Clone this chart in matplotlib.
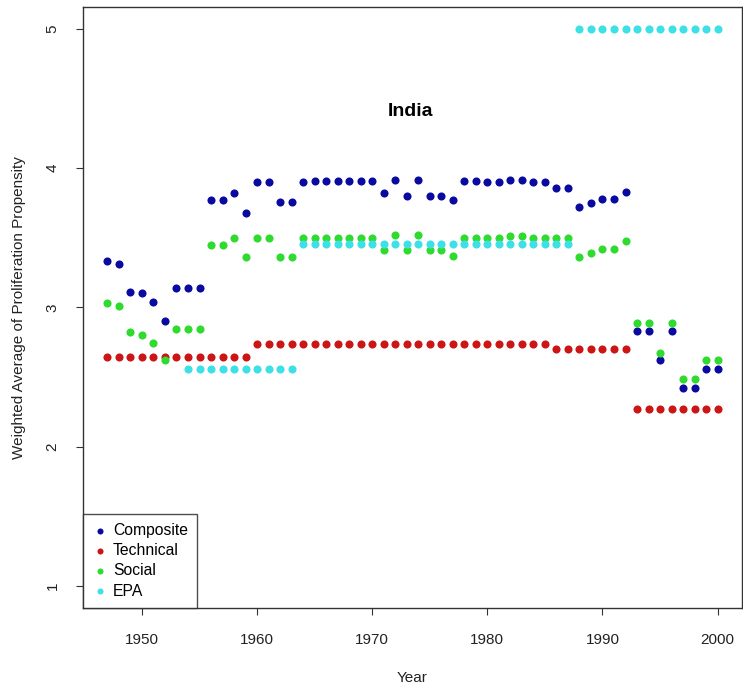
import numpy as np
import matplotlib
matplotlib.use("Agg")
import matplotlib.pyplot as plt

years = list(range(1947, 2001))

composite = [3.33, 3.31, 3.11, 3.10, 3.04, 2.90, 3.14, 3.14, 3.14, 3.77,
             3.77, 3.82, 3.68, 3.90, 3.90, 3.76, 3.76, 3.90, 3.905, 3.905,
             3.905, 3.905, 3.905, 3.905, 3.82, 3.915, 3.80, 3.915, 3.80, 3.80,
             3.77, 3.905, 3.905, 3.90, 3.90, 3.915, 3.915, 3.90, 3.90, 3.86,
             3.86, 3.72, 3.75, 3.78, 3.78, 3.83, 2.83, 2.83, 2.62, 2.83,
             2.42, 2.42, 2.56, 2.56]

technical = [2.64]*13 + [2.74]*26 + [2.70]*7 + [2.27]*8

social = [3.03, 3.01, 2.82, 2.80, 2.745, 2.62, 2.845, 2.845, 2.845, 3.445,
          3.445, 3.50, 3.36, 3.50, 3.50, 3.36, 3.36, 3.50, 3.50, 3.50,
          3.50, 3.50, 3.50, 3.50, 3.415, 3.52, 3.41, 3.52, 3.41, 3.41,
          3.37, 3.50, 3.50, 3.495, 3.495, 3.51, 3.51, 3.50, 3.50, 3.50,
          3.50, 3.36, 3.39, 3.42, 3.42, 3.475, 2.885, 2.885, 2.675, 2.885,
          2.485, 2.485, 2.62, 2.62]

epa = [np.nan]*7 + [2.555]*10 + [3.454]*24 + [5.0]*13

series_names = ["Composite", "Technical", "Social", "EPA"]
series_colors = ["#0A0AA0", "#CC1616", "#2EDB2E", "#3EE0E8"]

plt.rcParams['font.family'] = ['Liberation Sans', 'DejaVu Sans']

fig = plt.figure(figsize=(7.43, 6.9), dpi=100)
ax = fig.add_axes([0.1117, 0.1188, 0.887, 0.8716])

for vals, name, col in zip([composite, technical, social, epa], series_names, series_colors):
    ax.scatter(years, vals, s=34, color=col, label=name, linewidths=0, zorder=3)

ax.set_xlim(1944.88, 2002.12)
ax.set_ylim(0.84, 5.16)
ax.set_xticks([1950, 1960, 1970, 1980, 1990, 2000])
ax.set_yticks([1, 2, 3, 4, 5])
ax.tick_params(axis='both', direction='out', length=5, width=0.8, labelsize=11,
               color='#333333', labelcolor='#222222')
ax.tick_params(axis='x', pad=13)
ax.tick_params(axis='y', pad=12)
for lab in ax.get_yticklabels():
    lab.set_rotation(90)
    lab.set_va('center')

for sp in ax.spines.values():
    sp.set_linewidth(1.0)
    sp.set_color('#333333')

ax.set_xlabel("Year", fontsize=11, labelpad=17, color='#222222')
ax.set_ylabel("Weighted Average of Proliferation Propensity", fontsize=11,
              labelpad=14, color='#222222')

ax.text(1973.3, 4.41, "India", fontsize=14, fontweight='bold', ha='center', va='center')

leg = ax.legend(loc='lower left', bbox_to_anchor=(0, 0), borderaxespad=0,
                fontsize=11.3, frameon=True, fancybox=False, handletextpad=0.3,
                borderpad=0.6, labelspacing=0.33, handlelength=1.0,
                scatterpoints=1, markerscale=0.75)
leg.get_frame().set_edgecolor('#222222')
leg.get_frame().set_linewidth(1.0)

fig.savefig("out.png", dpi=100)
